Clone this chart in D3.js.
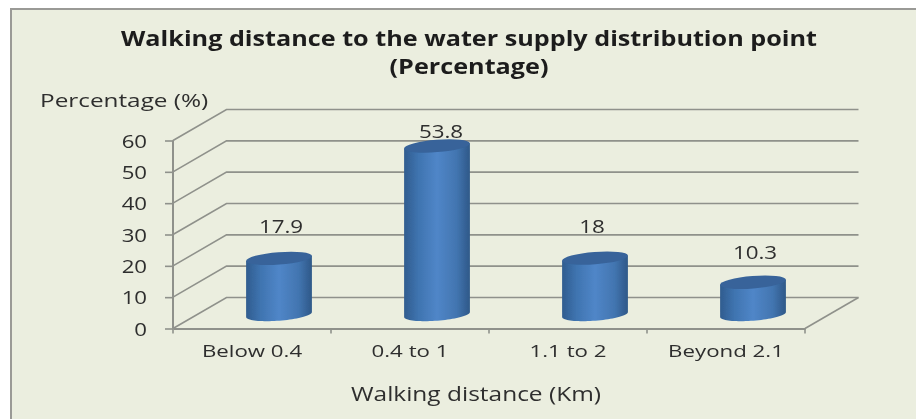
<!DOCTYPE html>
<html><head><meta charset="utf-8">
<style>html,body{margin:0;padding:0;background:#fff}svg{display:block}text{font-family:"Open Sans",sans-serif;fill:#2e2e2e}</style>
<script src="https://cdn.jsdelivr.net/npm/d3@7"></script></head>
<body><script>
const categories = ["Below 0.4","0.4 to 1","1.1 to 2","Beyond 2.1"];
const values = [17.9,53.8,18,10.3];
const valueLabels = ["17.9","53.8","18","10.3"];
const yTicks = [0,10,20,30,40,50,60];
const titleLines = ["Walking distance to the water supply distribution point","(Percentage)"];
const yTitle = "Percentage (%)";
const xTitle = "Walking distance (Km)";

const W=916,H=419;
const svg=d3.select("body").append("svg").attr("width",W).attr("height",H);
const defs=svg.append("defs");
const blur=defs.append("filter").attr("id","soft").attr("filterUnits","userSpaceOnUse")
  .attr("x",0).attr("y",0).attr("width",W).attr("height",H);
blur.append("feGaussianBlur").attr("stdDeviation",0.55);
const grad=defs.append("linearGradient").attr("id","cyl").attr("x1",0).attr("x2",1).attr("y1",0).attr("y2",0);
[[0,"#305c8f"],[0.22,"#3f74b0"],[0.5,"#5086c8"],[0.8,"#4275b0"],[1,"#2e5888"]].forEach(([o,c])=>grad.append("stop").attr("offset",o).attr("stop-color",c));

svg.append("rect").attr("x",11).attr("y",9).attr("width",W).attr("height",H)
  .attr("fill","#ebeedf").attr("stroke","#9a9a96").attr("stroke-width",2);

// stretch real text horizontally, as the reference picture is stretched
const stretch=(sel,f)=>sel.each(function(){
  d3.select(this).attr("lengthAdjust","spacingAndGlyphs").attr("textLength",this.getComputedTextLength()*f);
});

const root=svg.append("g").attr("filter","url(#soft)");
const x=d3.scaleBand().domain(categories).range([173,805]).paddingInner(0).paddingOuter(0);
const y=d3.scaleLinear().domain([0,60]).range([328.5,140.5]);
const dx=53.5,dy=-31;            // depth of the 3-D box
const bx=27,by=-14;              // cylinders stand mid-depth
const grid="#8f918b";

// walls and gridlines
const g=root.append("g").attr("fill","none").attr("stroke",grid).attr("stroke-width",1.6);
yTicks.forEach(t=>{
  g.append("path").attr("d",d3.line()([[x.range()[0],y(t)],[x.range()[0]+dx,y(t)+dy],[x.range()[1]+dx,y(t)+dy]]));
});
g.append("line").attr("x1",x.range()[1]).attr("y1",y(0)).attr("x2",x.range()[1]+dx).attr("y2",y(0)+dy);

// axes built with d3
const xAxis=root.append("g").attr("transform",`translate(0,${y(0)})`)
  .call(d3.axisBottom(x).tickSize(0).tickPadding(23));
xAxis.select(".domain").attr("stroke",grid).attr("stroke-width",2);
xAxis.selectAll("text").attr("font-size",17).attr("fill","#2e2e2e").attr("dy","0.32em");
stretch(xAxis.selectAll("text"),1.31);
const edges=[...categories.map(c=>x(c)),x.range()[1]];
xAxis.selectAll("line.edge").data(edges).join("line").attr("class","edge")
  .attr("x1",d=>d).attr("x2",d=>d).attr("y1",0).attr("y2",5).attr("stroke",grid).attr("stroke-width",1.6);

const yAxis=root.append("g").attr("transform",`translate(${x.range()[0]},0)`)
  .call(d3.axisLeft(y).tickValues(yTicks).tickSize(8).tickPadding(18).tickFormat(d3.format("d")));
yAxis.select(".domain").attr("stroke",grid).attr("stroke-width",2).attr("d",`M0,${y(60)}V${y(0)}`);
yAxis.selectAll("line").attr("stroke",grid).attr("stroke-width",1.6);
yAxis.selectAll("text").attr("font-size",18.5).attr("fill","#2e2e2e").attr("dy","0.36em");
stretch(yAxis.selectAll("text"),1.2);

// cylinders
const rx=33,ry=6.2,tilt=-4.5;
const rad=tilt*Math.PI/180;
const ellipsePt=a=>[rx*Math.cos(a)*Math.cos(rad)-ry*Math.sin(a)*Math.sin(rad),
                    rx*Math.cos(a)*Math.sin(rad)+ry*Math.sin(a)*Math.cos(rad)];
const lowerHalf=d3.range(0,41).map(i=>ellipsePt(Math.PI-i/40*Math.PI));
const bars=root.selectAll("g.bar").data(categories.map((c,i)=>({c,v:values[i],l:valueLabels[i]}))).join("g").attr("class","bar")
  .attr("transform",d=>`translate(${x(d.c)+x.bandwidth()/2+bx},0)`);
bars.append("path").attr("fill","url(#cyl)").attr("d",d=>{
  const t=y(d.v)+by, b=y(0)+by;
  const pts=lowerHalf.map(([px,py])=>[px,py+b]);
  const last=lowerHalf[lowerHalf.length-1], first=lowerHalf[0];
  return d3.line()([[first[0],first[1]+t],...pts,[last[0],last[1]+t]])+"Z";
});
bars.append("ellipse").attr("rx",rx).attr("ry",ry).attr("fill","#37639a")
  .attr("transform",d=>`translate(0,${y(d.v)+by}) rotate(${tilt})`);
const vl=bars.append("text").attr("text-anchor","middle").attr("font-size",18.5)
  .attr("x",d=>d.c===categories[1]?4:d.c===categories[2]?-3:2)
  .attr("y",d=>d.c===categories[1]?138:y(d.v)+by-(d.c===categories[3]?23:25)).text(d=>d.l);
stretch(vl,1.21);

// titles
const tt=root.selectAll("text.title").data(titleLines).join("text").attr("class","title")
  .attr("x",469).attr("y",(d,i)=>46+i*28).attr("text-anchor","middle")
  .attr("font-size",22).attr("font-weight",700).style("fill","#1c1c1c").text(d=>d);
stretch(tt,1.145);
stretch(root.append("text").attr("x",40).attr("y",107).attr("font-size",19).text(yTitle),1.28);
stretch(root.append("text").attr("x",476).attr("y",401).attr("text-anchor","middle").attr("font-size",19.5).text(xTitle),1.255);
</script></body></html>
